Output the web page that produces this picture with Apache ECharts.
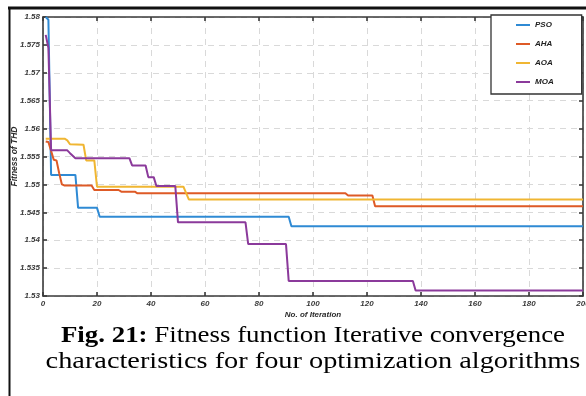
<!DOCTYPE html>
<html>
<head>
<meta charset="utf-8">
<script src="https://cdn.jsdelivr.net/npm/echarts@6/dist/echarts.min.js"></script>
<style>
  html, body { margin: 0; padding: 0; background: #ffffff; }
  #chart { width: 586px; height: 396px; }
</style>
</head>
<body>
<div id="chart"></div>
<script>
// Convergence curves: [iteration, best fitness (THD)]
const psoCurve = [[1,1.5800],[2,1.5795],[3,1.5517],[12,1.5517],[13,1.5458],[20,1.5458],[21,1.5442],[91,1.5442],[92,1.5425],[200,1.5425]];
const ahaCurve = [[1,1.5577],[2,1.5576],[4,1.5544],[5,1.5543],[6,1.5520],[7,1.5500],[8,1.5498],[18,1.5498],[19,1.5490],[28,1.5490],[29,1.5487],[34,1.5487],[35,1.5484],[112,1.5484],[113,1.5480],[122,1.5480],[123,1.5461],[200,1.5461]];
const aoaCurve = [[1,1.5582],[8,1.5582],[9,1.5579],[10,1.5572],[15,1.5571],[16,1.5543],[19,1.5543],[20,1.5496],[52,1.5496],[54,1.5473],[200,1.5473]];
const moaCurve = [[1,1.5768],[2,1.5745],[3,1.5561],[9,1.5561],[10,1.5556],[12,1.5547],[32,1.5547],[33,1.5534],[38,1.5534],[39,1.5513],[41,1.5513],[42,1.5497],[49,1.5497],[50,1.5432],[75,1.5432],[76,1.5393],[90,1.5393],[91,1.5327],[137,1.5327],[138,1.5310],[200,1.5310]];

const seriesNames = ['PSO', 'AHA', 'AOA', 'MOA'];
const seriesColors = ['#2f8ad4', '#de5a26', '#f0b632', '#8b3a9b'];
const curves = [psoCurve, ahaCurve, aoaCurve, moaCurve];

const xTicks = { min: 0, max: 200, step: 20 };
const yTicks = { min: 1.53, max: 1.58, step: 0.005 };

const axisName = { x: 'No. of Iteration', y: 'Fitness of THD' };
const captionBold = 'Fig. 21:';
const captionLine1 = ' Fitness function Iterative convergence';
const captionLine2 = 'characteristics for four optimization algorithms';

const chart = echarts.init(document.getElementById('chart'), null, { renderer: 'canvas' });

const tickFont = { fontFamily: 'Liberation Sans, Arial, sans-serif', fontStyle: 'italic', fontWeight: 'bold', fontSize: 8, color: '#3a3a3a' };
const axisStroke = { color: '#3a3a3a', width: 1.6 };

function frameAxis(extra) {
  return Object.assign({
    type: 'value',
    axisLine: { show: true, onZero: false, lineStyle: axisStroke },
    axisTick: { show: true, inside: true, length: 4, lineStyle: axisStroke },
    axisLabel: { show: false },
    splitLine: { show: false }
  }, extra);
}

const serif = 'Liberation Serif, Times New Roman, serif';

const option = {
  animation: false,
  backgroundColor: '#ffffff',
  grid: { left: 43, right: 3, top: 17, bottom: 100, containLabel: false, outerBoundsMode: 'none' },
  legend: {
    data: seriesNames.map(n => ({ name: n, icon: 'rect' })),
    orient: 'vertical',
    left: 491,
    top: 15,
    itemWidth: 14,
    itemHeight: 2,
    itemGap: 9,
    padding: [5, 28, 7, 25],
    borderColor: '#333333',
    borderWidth: 1.3,
    backgroundColor: '#ffffff',
    textStyle: Object.assign({}, tickFont, { color: '#222', lineHeight: 10 })
  },
  xAxis: [
    {
      type: 'value',
      min: xTicks.min, max: xTicks.max, interval: xTicks.step,
      name: axisName.x,
      nameLocation: 'middle',
      nameGap: 15,
      nameMoveOverlap: false,
      nameTextStyle: Object.assign({}, tickFont, { color: '#2a2a2a' }),
      axisLine: { show: true, onZero: false, lineStyle: axisStroke },
      axisTick: { show: true, inside: true, length: 4, lineStyle: axisStroke },
      axisLabel: Object.assign({}, tickFont, { margin: 4, hideOverlap: false }),
      splitLine: { show: true, lineStyle: { color: '#d9d9d9', width: 1, type: [6, 5] } }
    },
    frameAxis({ position: 'top', min: xTicks.min, max: xTicks.max, interval: xTicks.step })
  ],
  yAxis: [
    {
      type: 'value',
      min: yTicks.min, max: yTicks.max, interval: yTicks.step,
      name: axisName.y,
      nameLocation: 'middle',
      nameGap: 24,
      nameMoveOverlap: false,
      nameRotate: 90,
      nameTextStyle: Object.assign({}, tickFont, { fontSize: 8.5, color: '#2a2a2a' }),
      axisLine: { show: true, onZero: false, lineStyle: axisStroke },
      axisTick: { show: true, inside: true, length: 4, lineStyle: axisStroke },
      axisLabel: Object.assign({}, tickFont, { margin: 3, formatter: v => String(+v.toFixed(3)) }),
      splitLine: { show: true, lineStyle: { color: '#d9d9d9', width: 1, type: [6, 5] } }
    },
    frameAxis({ position: 'right', min: yTicks.min, max: yTicks.max, interval: yTicks.step })
  ],
  series: curves.map((c, i) => ({
    name: seriesNames[i],
    type: 'line',
    data: c,
    showSymbol: false,
    symbol: 'none',
    color: seriesColors[i],
    lineStyle: { width: 2, color: seriesColors[i] },
    z: 3 + i
  })),
  graphic: [
    // page frame edges
    { type: 'line', shape: { x1: 8, y1: 8, x2: 586, y2: 8 }, style: { stroke: '#111', lineWidth: 3 }, z: 10 },
    { type: 'line', shape: { x1: 9.5, y1: 7, x2: 9.5, y2: 396 }, style: { stroke: '#111', lineWidth: 2 }, z: 10 },
    // figure caption, first line
    {
      type: 'text',
      x: 313,
      y: 336,
      scaleX: 1.12,
      style: {
        text: '{b|' + captionBold + '}{n|' + captionLine1 + '}',
        align: 'center',
        verticalAlign: 'middle',
        rich: {
          b: { fontFamily: serif, fontWeight: 'bold', fontSize: 24, fill: '#000' },
          n: { fontFamily: serif, fontSize: 24, fill: '#000' }
        }
      },
      z: 10
    },
    // figure caption, second line
    {
      type: 'text',
      x: 313,
      y: 362,
      scaleX: 1.18,
      style: {
        text: captionLine2,
        align: 'center',
        verticalAlign: 'middle',
        fontFamily: serif,
        fontSize: 24,
        fill: '#000'
      },
      z: 10
    }
  ]
};

chart.setOption(option);
</script>
</body>
</html>
